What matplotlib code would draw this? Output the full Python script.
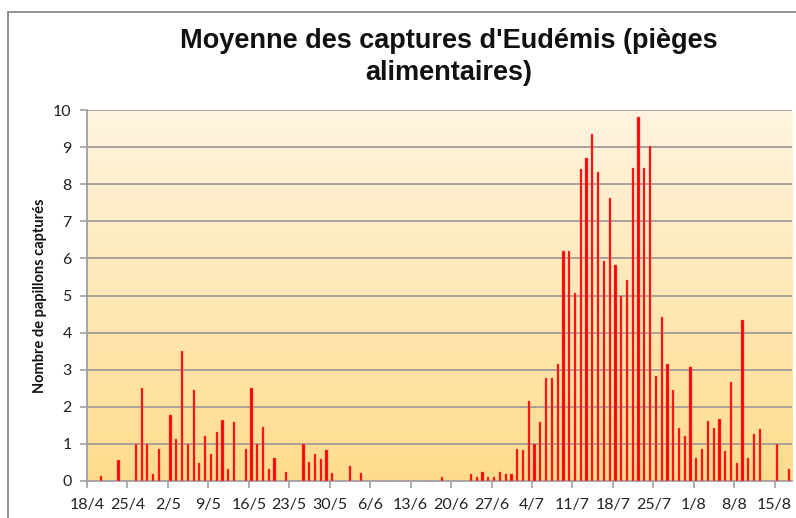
import numpy as np
import matplotlib
matplotlib.use("Agg")
import matplotlib.pyplot as plt
from matplotlib.colors import LinearSegmentedColormap
from matplotlib.patches import Rectangle

# Daily mean captures from 18/4 (day 0) to 17/8 (day 121)
captures = [
    0, 0, 0.14, 0, 0, 0.56, 0, 0, 1.0, 2.5,          # 0-9
    1.0, 0.2, 0.87, 0, 1.79, 1.13, 3.5, 1.0, 2.44, 0.49,  # 10-19
    1.2, 0.73, 1.33, 1.64, 0.33, 1.6, 0, 0.87, 2.5, 1.0,  # 20-29
    1.46, 0.33, 0.62, 0, 0.25, 0, 0, 1.0, 0.5, 0.74,      # 30-39
    0.6, 0.83, 0.21, 0, 0, 0.4, 0, 0.21, 0, 0,            # 40-49
    0, 0, 0, 0, 0, 0, 0, 0, 0, 0,                         # 50-59
    0, 0.1, 0, 0, 0, 0, 0.2, 0.11, 0.23, 0.1,             # 60-69
    0.1, 0.23, 0.2, 0.19, 0.85, 0.83, 2.15, 1.01, 1.58, 2.77,  # 70-79
    2.77, 3.15, 6.21, 6.21, 5.08, 8.4, 8.7, 9.35, 8.33, 5.92,  # 80-89
    7.64, 5.81, 5.0, 5.41, 8.44, 9.82, 8.44, 9.02, 2.84, 4.43,  # 90-99
    3.15, 2.44, 1.42, 1.2, 3.08, 0.62, 0.87, 1.61, 1.42, 1.67,  # 100-109
    0.8, 2.67, 0.49, 4.34, 0.62, 1.26, 1.4, 0, 0, 0.99,   # 110-119
    0, 0.33,                                              # 120-121
]
tick_labels = ["18/4", "25/4", "2/5", "9/5", "16/5", "23/5", "30/5", "6/6",
               "13/6", "20/6", "27/6", "4/7", "11/7", "18/7", "25/7", "1/8",
               "8/8", "15/8"]
title = "Moyenne des captures d'Eudémis (pièges\nalimentaires)"
ylabel = "Nombre de papillons capturés"

days = np.arange(len(captures))
W, H = 796, 518
fig = plt.figure(figsize=(W / 100, H / 100), dpi=100)
fig.patch.set_facecolor("white")

# outer chart frame (cut by image edges)
fig.patches.append(Rectangle((8 / W, -0.1), 1.2, 1.1 - 12 / H,
                             transform=fig.transFigure, fill=False,
                             edgecolor="#8a8a8a", lw=1.3))

ax = fig.add_axes([87 / W, 37 / H, (792 - 87) / W, (481 - 110) / H])
ax.set_xlim(0, 122)
ax.set_ylim(0, 10)

# gradient background
cmap = LinearSegmentedColormap.from_list("bg", ["#FFDC8C", "#FFF4E0"])
grad = np.linspace(0, 1, 256).reshape(-1, 1)
ax.imshow(grad, aspect="auto", cmap=cmap, origin="lower",
          extent=[0, 122, 0, 10], zorder=0)

ax.set_axisbelow(True)
for yv in range(1, 11):
    ax.axhline(yv, color="#a09d98", lw=1.3, zorder=1)

ax.bar(days + 0.45, captures, width=0.38, color="#ff0000",
       edgecolor="#ff6060", linewidth=0.3, zorder=3)

for s in ["top", "right"]:
    ax.spines[s].set_visible(False)
for s in ["left", "bottom"]:
    ax.spines[s].set_color("#a0a0a0")
    ax.spines[s].set_linewidth(1.3)

ax.set_xticks(np.arange(0, 7 * len(tick_labels), 7))
ax.set_xticklabels(tick_labels)
ax.set_yticks(range(0, 11))
ax.tick_params(axis="both", direction="out", length=5, width=1.2,
               color="#a0a0a0", labelsize=11.5, labelcolor="#222222")
ax.tick_params(axis="x", pad=7)
ax.tick_params(axis="y", pad=6)
for lab in ax.get_xticklabels() + ax.get_yticklabels():
    lab.set_family(["Lato", "DejaVu Sans"])

ax.set_ylabel(ylabel, fontsize=10.5, fontweight="bold",
              family=["Lato", "DejaVu Sans"], color="#111111")
ax.yaxis.set_label_coords(-0.057, 0.5)

fig.text(449 / W, 1 - 57 / H, title, ha="center", va="center",
         fontsize=19.5, fontweight="bold", family=["Liberation Sans", "DejaVu Sans"],
         linespacing=1.32, color="#111111")

fig.savefig("out.png", dpi=100)
